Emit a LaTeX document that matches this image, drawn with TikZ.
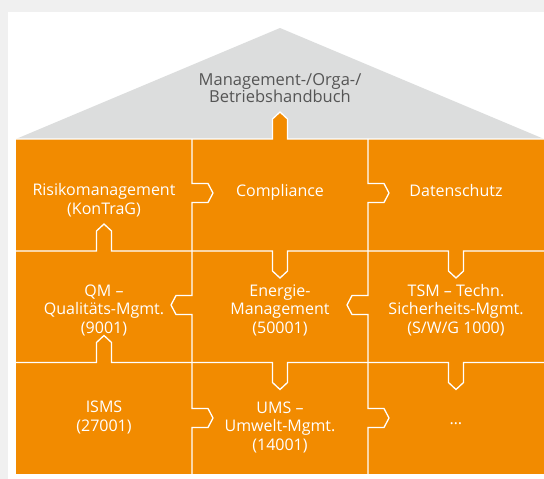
\documentclass[tikz,border=0pt]{standalone}
\usepackage{fontspec}
\setmainfont{Open Sans}
\usetikzlibrary{calc}
\definecolor{boxorange}{RGB}{242,139,0}
\definecolor{roofgray}{RGB}{220,221,221}
\definecolor{rooftext}{RGB}{85,85,85}
\definecolor{shadowgray}{RGB}{240,240,240}

% puzzle tabs on a border line
\newcommand{\vtab}[3]{-- (#1-7.5,#2) -- ++(0,{20*(#3)}) -- ++(7.5,{7*(#3)}) -- ++(7.5,{-7*(#3)}) -- ++(0,{-20*(#3)})}
\newcommand{\htab}[3]{-- (#1,#2-9.5) -- ++({16*(#3)},0) -- ++({5*(#3)},9.5) -- ++({-5*(#3)},9.5) -- ++({-16*(#3)},0)}
\newcommand{\boxfont}{\fontsize{16}{18.5}\selectfont\lineskiplimit=-20pt\relax}
\newcommand{\rooffont}{\fontsize{16.5}{17}\selectfont\lineskiplimit=-20pt\relax}

\begin{document}
\begin{tikzpicture}[x=1pt,y=-1pt,
  every node/.style={font=\boxfont,text=white,align=center,inner sep=0pt},
  border/.style={draw=white,line width=1.3pt,line join=miter}]
  \useasboundingbox (0,0) rectangle (544,479);
  \fill[shadowgray] (0,0) rectangle (544,479);
  \fill[white] (8,12) rectangle (544,479);

  % roof
  \fill[roofgray] (16,139) -- (280,28) -- (544,139) -- cycle;
  \node (roof) [text=rooftext,font=\rooffont] at (280,88.5) {Management-/Orga-/\\Betriebshandbuch};

  % blocks
  \fill[boxorange] (16,139) rectangle (544,474);
  \draw[border,fill=boxorange] (16,139) \vtab{280}{139}{-1} -- (544,139);
  \foreach \y in {251,362.5} {
    \draw[border] (16,\y) \vtab{104}{\y}{-1} \vtab{280}{\y}{1} \vtab{456}{\y}{1} -- (544,\y);
  }
  \foreach \x in {192,368} {
    \draw[border] (\x,139) \htab{\x}{193}{1} \htab{\x}{305}{-1} \htab{\x}{418}{1} -- (\x,474);
  }

  % labels
  \node (risk) at (104,200) {Risikomanagement\\(KonTraG)};
  \node (compliance) at (280,192) {Compliance};
  \node (privacy) at (456,190) {Datenschutz};
  \node (qm) at (104,310) {QM –\\Qualitäts-Mgmt.\\(9001)};
  \node (energy) at (280,310) {Energie-\\Management\\(50001)};
  \node (tsm) at (456,310) {TSM – Techn.\\Sicherheits-Mgmt.\\(S/W/G 1000)};
  \node (isms) at (104,417.5) {ISMS\\(27001)};
  \node (ums) at (280,427) {UMS –\\Umwelt-Mgmt.\\(14001)};
  \node (more) at (456,424) {…};
\end{tikzpicture}
\end{document}
